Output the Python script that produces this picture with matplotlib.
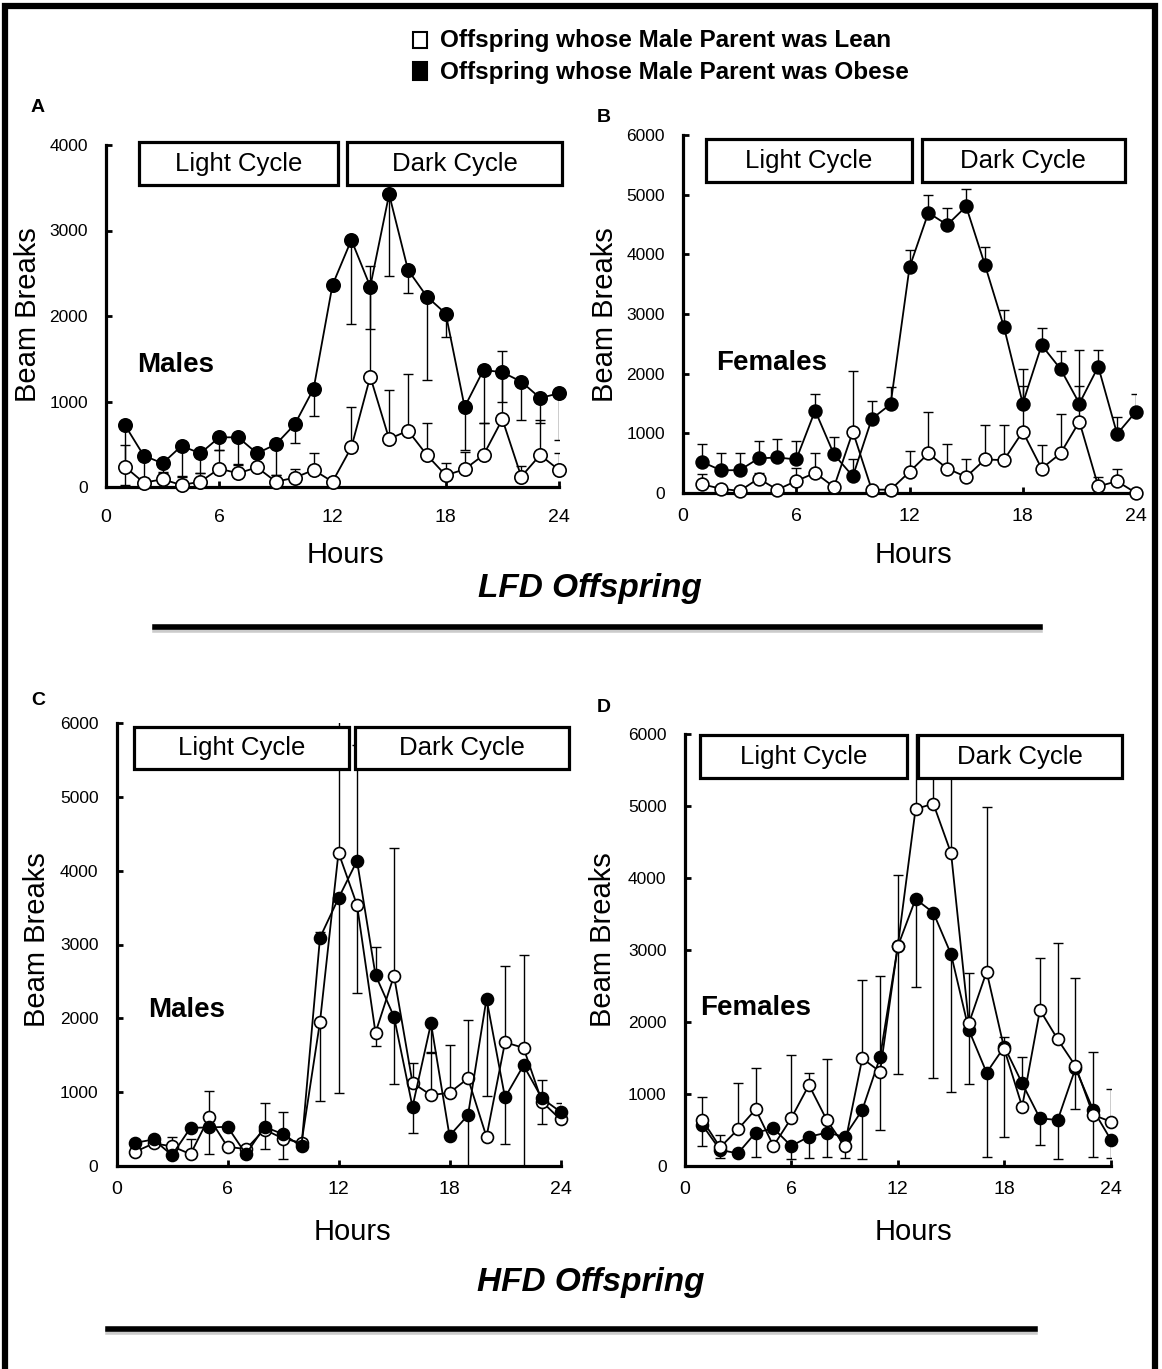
import matplotlib
matplotlib.use("Agg")
import matplotlib.pyplot as plt
from matplotlib.patches import Rectangle
from matplotlib.lines import Line2D

plt.rcParams['font.family'] = ['Liberation Sans', 'DejaVu Sans']

W, H = 1162, 1369
hours = list(range(1, 25))
x_ticks = [0, 6, 12, 18, 24]

# A: LFD males
a_lean = [238, 51, 90, 23, 62, 215, 160, 230, 62, 109, 199, 62, 464, 1291, 562, 659, 374, 137, 207, 374, 792, 121, 374, 199]
a_lean_hi = [254, 60, 80, 100, 100, 220, 100, 230, 80, 98, 203, 0, 472, 1289, 573, 659, 378, 148, 207, 370, 800, 121, 410, 200]
a_obese = [725, 367, 277, 480, 394, 581, 581, 394, 499, 733, 1150, 2363, 2890, 2344, 3424, 2539, 2227, 2028, 936, 1369, 1342, 1232, 1041, 1096]
a_obese_lo = [700, 300, 110, 360, 225, 150, 316, 0, 359, 222, 316, 0, 979, 495, 952, 269, 975, 269, 503, 624, 343, 449, 296, 546]

# B: LFD females
b_lean = [146, 73, 34, 242, 56, 202, 337, 101, 1028, 56, 56, 354, 663, 410, 270, 562, 551, 1028, 410, 663, 1197, 112, 197, 0]
b_lean_hi = [169, 50, 50, 100, 50, 220, 326, 50, 1011, 50, 50, 354, 691, 410, 292, 579, 590, 1050, 393, 663, 1208, 157, 213, 0]
b_obese = [522, 382, 382, 579, 596, 562, 1382, 646, 281, 1242, 1489, 3781, 4697, 4494, 4803, 3820, 2787, 1500, 2478, 2079, 1500, 2118, 989, 1365]
b_obese_hi = [298, 281, 281, 298, 309, 309, 281, 298, 281, 292, 287, 292, 292, 287, 298, 298, 281, 287, 292, 298, 287, 287, 281, 298]

# C: HFD males
c_lean = [192, 305, 268, 160, 657, 259, 230, 494, 372, 314, 1954, 4245, 3536, 1805, 2578, 1127, 960, 992, 1186, 395, 1675, 1601, 870, 630]
c_lean_lo = [0, 0, 0, 0, 0, 0, 0, 0, 0, 0, 1075, 0, 1189, 176, 0, 0, 0, 0, 0, 0, 0, 0, 0, 0]
c_lean_hi = [0, 0, 127, 199, 357, 0, 0, 353, 362, 50, 0, 1900, 0, 0, 1727, 271, 570, 650, 791, 0, 1039, 1257, 300, 217]
c_obese = [314, 359, 146, 517, 522, 531, 160, 531, 431, 268, 3093, 3627, 4133, 2587, 2022, 802, 1932, 409, 689, 2266, 928, 1363, 915, 734]
c_obese_lo = [100, 0, 0, 0, 353, 0, 0, 307, 330, 0, 0, 2644, 0, 0, 917, 353, 390, 0, 689, 1320, 633, 1363, 350, 0]
c_obese_hi = [0, 0, 0, 0, 0, 0, 0, 0, 0, 0, 82, 0, 1573, 384, 0, 0, 0, 0, 0, 0, 0, 0, 0, 0]

# D: HFD females
d_lean = [639, 259, 509, 787, 278, 662, 1125, 639, 278, 1495, 1310, 3056, 4958, 5032, 4343, 1981, 2699, 1620, 824, 2167, 1759, 1389, 708, 616]
d_lean_lo = [0, 0, 0, 0, 0, 0, 0, 0, 0, 0, 810, 0, 0, 0, 0, 0, 0, 0, 0, 0, 0, 0, 0, 0]
d_lean_hi = [324, 172, 648, 569, 0, 880, 171, 842, 0, 1088, 0, 986, 1150, 954, 1300, 695, 2282, 0, 0, 726, 1343, 1226, 880, 453]
d_obese = [569, 222, 176, 463, 523, 278, 407, 463, 407, 778, 1509, 3050, 3708, 3519, 2940, 1889, 1296, 1657, 1148, 662, 639, 1357, 778, 361]
d_obese_lo = [291, 115, 0, 333, 0, 185, 300, 333, 300, 685, 0, 1772, 1227, 2301, 1908, 755, 1176, 1250, 0, 370, 546, 570, 648, 254]
d_obese_hi = [0, 0, 0, 0, 0, 0, 0, 0, 0, 0, 1130, 0, 0, 0, 0, 0, 0, 130, 370, 0, 0, 0, 0, 0]

zeros = [0] * 24


def fx(px):
    return px / W


def fy(py):
    return 1 - py / H


fig = plt.figure(figsize=(W / 100, H / 100), dpi=100)


def panel(rect, ymax, lean, lean_err, obese, obese_err, boxes, xpad, lean_on_top, ms=9.2):
    left, right, bottom, top = rect
    ax = fig.add_axes([fx(left), fy(bottom), (right - left) / W, (bottom - top) / H])
    ax.set_xlim(0, 24)
    ax.set_ylim(0, ymax)
    ax.set_xticks(x_ticks)
    ax.set_yticks(range(0, ymax + 1, 1000))
    for s in ("top", "right"):
        ax.spines[s].set_visible(False)
    for s in ("left", "bottom"):
        ax.spines[s].set_linewidth(2.3)
    ax.tick_params(axis="both", direction="in", length=4, width=2)
    ax.tick_params(axis="y", labelsize=12.5, pad=13)
    ax.tick_params(axis="x", labelsize=14, pad=xpad)

    eb = dict(fmt="none", ecolor="black", elinewidth=1.0, capsize=3.8, capthick=1.0, zorder=2)
    ax.errorbar(hours, lean, yerr=lean_err, **eb)
    ax.errorbar(hours, obese, yerr=obese_err, **eb)

    z_lean, z_ob = (4, 3) if lean_on_top else (3, 4)
    ax.plot(hours, obese, "-o", color="black", lw=1.3, ms=ms, mfc="black", mec="black",
            mew=1.2, zorder=z_ob, clip_on=False)
    ax.plot(hours, lean, "-o", color="black", lw=1.3, ms=ms, mfc="white", mec="black",
            mew=1.2, zorder=z_lean, clip_on=False)

    lx0, lx1, dx0, dx1, by0, by1 = boxes
    for x0, x1, label in ((lx0, lx1, "Light Cycle"), (dx0, dx1, "Dark Cycle")):
        ax.add_patch(Rectangle((x0, by0), x1 - x0, by1 - by0, transform=ax.transAxes,
                               facecolor="white", edgecolor="black", lw=2.3, zorder=6,
                               clip_on=False))
        ax.text((x0 + x1) / 2, (by0 + by1) / 2, label, transform=ax.transAxes,
                ha="center", va="center", fontsize=18.5, zorder=7)
    return ax


panel((106, 559, 487, 145), 4000, a_lean, [zeros, a_lean_hi], a_obese, [a_obese_lo, zeros],
      (0.0728, 0.5115, 0.5327, 1.0073, 0.8830, 1.0079), 16, False, ms=9.6)
panel((683, 1136, 493, 135), 6000, b_lean, [zeros, b_lean_hi], b_obese, [zeros, b_obese_hi],
      (0.0501, 0.5049, 0.5269, 0.9757, 0.8679, 0.9888), 11, False)
panel((116.5, 560.5, 1166, 723), 6000, c_lean, [c_lean_lo, c_lean_hi], c_obese, [c_obese_lo, c_obese_hi],
      (0.0394, 0.5230, 0.5372, 1.0187, 0.8955, 0.9916), 11, False, ms=8.6)
panel((684.6, 1111, 1166, 734), 6000, d_lean, [d_lean_lo, d_lean_hi], d_obese, [d_obese_lo, d_obese_hi],
      (0.0359, 0.5209, 0.5481, 1.0265, 0.8975, 0.9977), 11, True, ms=8.6)

# axis titles and panel captions
for x, y in ((28, 315), (605, 315), (37, 940), (603, 940)):
    fig.text(fx(x), fy(y), "Beam Breaks", rotation=90, ha="center", va="center", fontsize=21)
for x, y in ((345, 555), (913, 555), (352, 1232), (913, 1232)):
    fig.text(fx(x), fy(y), "Hours", ha="center", va="center", fontsize=21)
for x, y, s in ((137, 365, "Males"), (716, 363, "Females"), (148, 1010, "Males"), (700, 1008, "Females")):
    fig.text(fx(x), fy(y), s, ha="left", va="center", fontsize=20, fontweight="bold")
for x, y, s in ((38, 108, "A"), (604, 118, "B"), (38, 700, "C"), (604, 708, "D")):
    fig.text(fx(x), fy(y), s, ha="center", va="center", fontsize=14, fontweight="bold")

fig.text(fx(590), fy(588), "LFD Offspring", ha="center", va="center", fontsize=24,
         fontweight="bold", fontstyle="italic")
fig.text(fx(591), fy(1283), "HFD Offspring", ha="center", va="center", fontsize=24,
         fontweight="bold", fontstyle="italic")

# separator rules with a soft shadow
for x0, x1, y in ((155, 1040, 627), (108, 1035, 1329)):
    fig.add_artist(Line2D([fx(x0), fx(x1)], [fy(y + 3), fy(y + 3)], color="0.6", lw=4, alpha=0.5))
    fig.add_artist(Line2D([fx(x0), fx(x1)], [fy(y), fy(y)], color="black", lw=4))

# legend
fig.add_artist(Rectangle((fx(413), fy(48)), 14 / W, 16 / H, facecolor="white", edgecolor="black", lw=1.5))
fig.add_artist(Rectangle((fx(413), fy(80)), 14 / W, 18 / H, facecolor="black", edgecolor="black", lw=1.5))
fig.text(fx(440), fy(41), "Offspring whose Male Parent was Lean", ha="left", va="center",
         fontsize=17.5, fontweight="bold")
fig.text(fx(440), fy(73), "Offspring whose Male Parent was Obese", ha="left", va="center",
         fontsize=17.5, fontweight="bold")

# outer frame
fig.add_artist(Rectangle((fx(5), -0.02), (1155 - 5) / W, fy(6) + 0.02, fill=False,
                         edgecolor="black", lw=4.5))

fig.savefig("out.png", dpi=100)
